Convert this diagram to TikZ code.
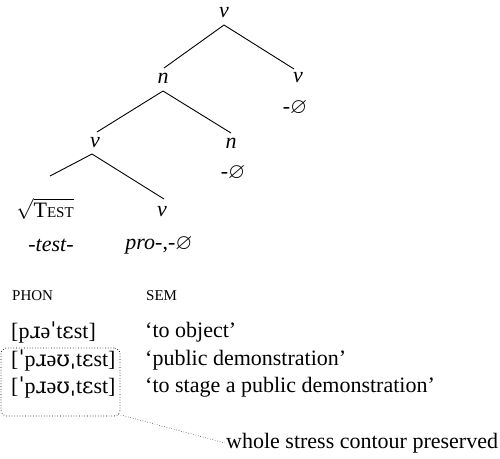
\documentclass[tikz,border=0pt]{standalone}
\usepackage{amssymb}
\usepackage{fontspec}
\setmainfont{Liberation Serif}
\newfontfamily\ipafont{DejaVu Serif}
\newcommand{\fakesc}[1]{{\fontsize{15}{18}\selectfont #1}}
\newcommand{\nul}{\ensuremath{\varnothing}}
\begin{document}
\begin{tikzpicture}[x=1pt,y=-1pt,
  every node/.style={font=\fontsize{22}{26}\selectfont, inner sep=1pt},
  cat/.style={font=\fontsize{22}{26}\selectfont\itshape},
  edge/.style={line width=0.9pt},
  txt/.style={anchor=west},
  dots/.style={dotted, line width=0.7pt}]
\useasboundingbox (0,0) rectangle (500,458);

% tree
\node[cat] (r)  at (224,13) {v};
\node[cat] (n1) at (163,78) {n};
\node[cat] (v2) at (298,78) {v};
\node      (z1) at (295,108) {-\nul};
\node[cat] (v3) at (95,143) {v};
\node[cat] (n2) at (231,143) {n};
\node      (z2) at (233,173) {-\nul};
\node      (rt) at (45,209) {$\sqrt{\mbox{T\fakesc{EST}}}$};
\node[cat] (v4) at (162,212) {v};
\node[cat] (tl) at (51,245) {-test-};
\node      (pr) at (159,245) {\textit{pro}-,-\nul};

\draw[edge] ([yshift=-12pt]r.center)  -- ([xshift=1pt,yshift=10pt]n1.center);
\draw[edge] ([yshift=-12pt]r.center)  -- ([xshift=-4pt,yshift=9pt]v2.center);
\draw[edge] ([yshift=-13pt]n1.center) -- ([xshift=2pt,yshift=11pt]v3.center);
\draw[edge] ([yshift=-13pt]n1.center) -- ([yshift=10pt]n2.center);
\draw[edge] ([xshift=-3pt,yshift=-11pt]v3.center) -- ([xshift=5pt,yshift=33pt]rt.center);
\draw[edge] ([xshift=-3pt,yshift=-11pt]v3.center) -- ([xshift=2pt,yshift=13pt]v4.center);

% PHON / SEM table
\node[txt] (ph) at (11,296) {\fakesc{PHON}};
\node[txt] (se) at (145,296) {\fakesc{SEM}};
\node[txt] (p1) at (10,332) {[p{\ipafont ɹ}ə{\ipafont ˈ}t{\ipafont ɛ}st]};
\node[txt] (s1) at (144,332) {‘to object’};
\node[txt] (p2) at (10,360) {[{\ipafont ˈ}p{\ipafont ɹ}ə{\ipafont ʊˌ}t{\ipafont ɛ}st]};
\node[txt] (s2) at (144,360) {‘public demonstration’};
\node[txt] (p3) at (10,387) {[{\ipafont ˈ}p{\ipafont ɹ}ə{\ipafont ʊˌ}t{\ipafont ɛ}st]};
\node[txt] (s3) at (144,387) {‘to stage a public demonstration’};

% dotted box round the two preserved forms, and its note
\node[draw, dots, rounded corners=6pt, minimum width=119pt, minimum height=68pt] (bx) at (60.5,382) {};
\node[txt] (nt) at (225,443) {whole stress contour preserved};
\draw[dots, line width=0.5pt] ([xshift=-2pt,yshift=2pt]bx.south east) -- (nt.west);
\end{tikzpicture}
\end{document}
